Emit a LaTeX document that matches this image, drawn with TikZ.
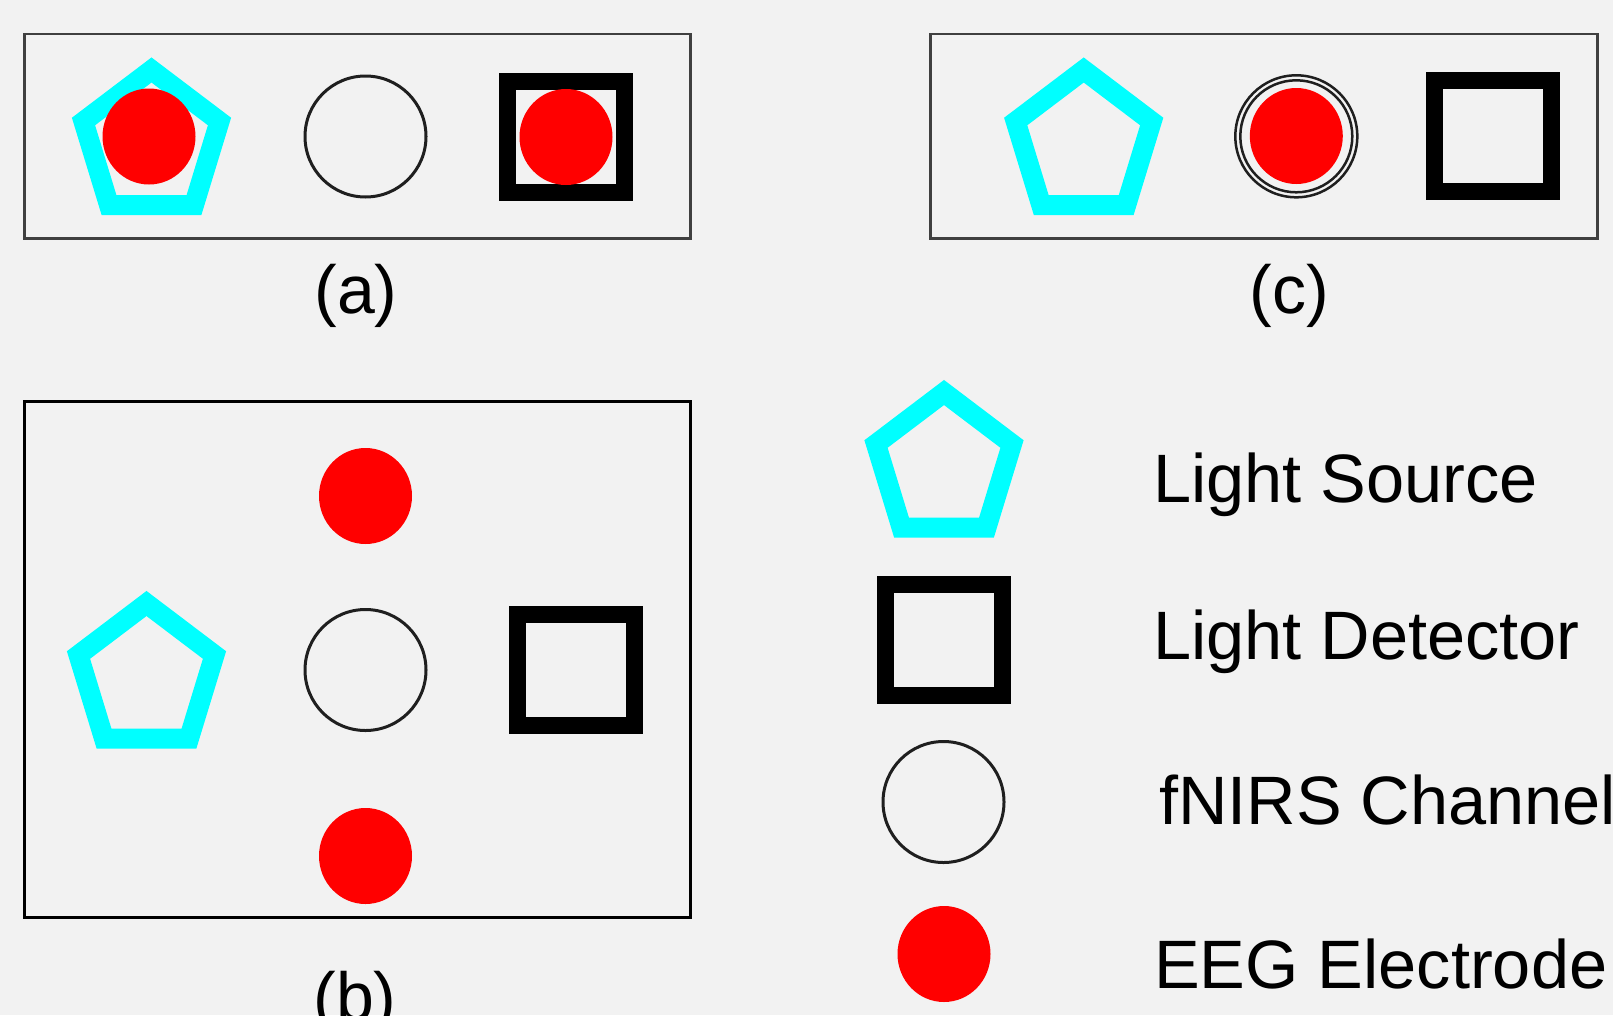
\documentclass[tikz,border=0pt]{standalone}
\usepackage{fontspec}
\setmainfont{Liberation Sans}
\usetikzlibrary{shapes.geometric}
\definecolor{bg}{HTML}{F2F2F2}
\definecolor{srccyan}{HTML}{00FFFF}
\definecolor{eegred}{HTML}{FF0000}
\definecolor{framegray}{HTML}{404040}
\tikzset{
  panel/.style={draw=framegray, line width=2.5pt, rectangle, inner sep=0pt},
  panelb/.style={draw=black, line width=3pt, rectangle, inner sep=0pt},
  srcshape/.style={draw=srccyan, line width=20pt, line join=miter},
  detbox/.style={draw=black, line width=17pt, rectangle, minimum width=117pt, minimum height=111pt, inner sep=0pt},
  chan/.style={draw=black!88, line width=3pt, circle, minimum size=121pt, inner sep=0pt},
  eeg/.style={fill=eegred, ellipse, minimum width=93pt, minimum height=96pt, inner sep=0pt},
  lbl/.style={inner sep=0pt, anchor=base, font=\fontsize{68}{80}\selectfont},
  leg/.style={inner sep=0pt, anchor=base west, font=\fontsize{68.5}{80}\selectfont},
}
\begin{document}
\begin{tikzpicture}[x=1pt,y=-1pt]
\path[use as bounding box] (0,0) rectangle (1613,1015);
\clip (0,0) rectangle (1613,1015);
\fill[bg] (0,0) rectangle (1613,1015);

% ---------- panel (a) ----------
\node[panel, minimum width=666pt, minimum height=204.5pt] (boxa) at (357.5,136.25) {};
\coordinate (pa) at (151.5,137.5);
\draw[srcshape, shift={(pa)}] (0,-67.5) -- (68,-16) -- (42.5,67.5) -- (-42.5,67.5) -- (-68,-16) -- cycle;
\node[eeg] (ea1) at (149,136.5) {};
\node[chan] (ca) at (365.5,136.5) {};
\node[detbox] (da) at (566.2,136.7) {};
\node[eeg] (ea2) at (566,137) {};
\node[lbl] (la) at (356,313) {(a)};

% ---------- panel (c) ----------
\node[panel, minimum width=667pt, minimum height=204.5pt] (boxc) at (1264,136.25) {};
\coordinate (pc) at (1083.7,137.5);
\draw[srcshape, shift={(pc)}] (0,-67.5) -- (68,-16) -- (42.5,67.5) -- (-42.5,67.5) -- (-68,-16) -- cycle;
\node[draw=black!88, line width=2.5pt, circle, minimum size=122pt, inner sep=0pt] (cc) at (1296.3,136.3) {};
\node[draw=black!88, line width=2.5pt, circle, minimum size=112pt, inner sep=0pt] (cci) at (1296.3,136.3) {};
\node[eeg] (ec) at (1296.3,136) {};
\node[detbox] (dc) at (1493.4,136.3) {};
\node[lbl] (lc) at (1289,313) {(c)};

% ---------- panel (b) ----------
\node[panelb, minimum width=666pt, minimum height=516.5pt] (boxb) at (357.5,659.25) {};
\coordinate (pb) at (146.5,671);
\draw[srcshape, shift={(pb)}] (0,-67.5) -- (68,-16) -- (42.5,67.5) -- (-42.5,67.5) -- (-68,-16) -- cycle;
\node[chan] (cb) at (365.5,670) {};
\node[detbox] (db) at (575.9,670.3) {};
\node[eeg] (eb1) at (365.5,496) {};
\node[eeg] (eb2) at (365.5,856) {};
\node[lbl] (lb) at (355,1020) {(b)};

% ---------- legend ----------
\coordinate (pl) at (944,460);
\draw[srcshape, shift={(pl)}] (0,-67.5) -- (68,-16) -- (42.5,67.5) -- (-42.5,67.5) -- (-68,-16) -- cycle;
\node[detbox] (dl) at (943.7,639.5) {};
\node[chan] (cl) at (943.5,802) {};
\node[eeg] (el) at (944,954) {};
\node[leg] (t1) at (1153,502.5) {Light Source};
\node[leg] (t2) at (1153,659) {Light Detector};
\node[leg] (t3) at (1159,824) {fNIRS Channel};
\node[leg] (t4) at (1154,988) {EEG Electrode};
\end{tikzpicture}
\end{document}
